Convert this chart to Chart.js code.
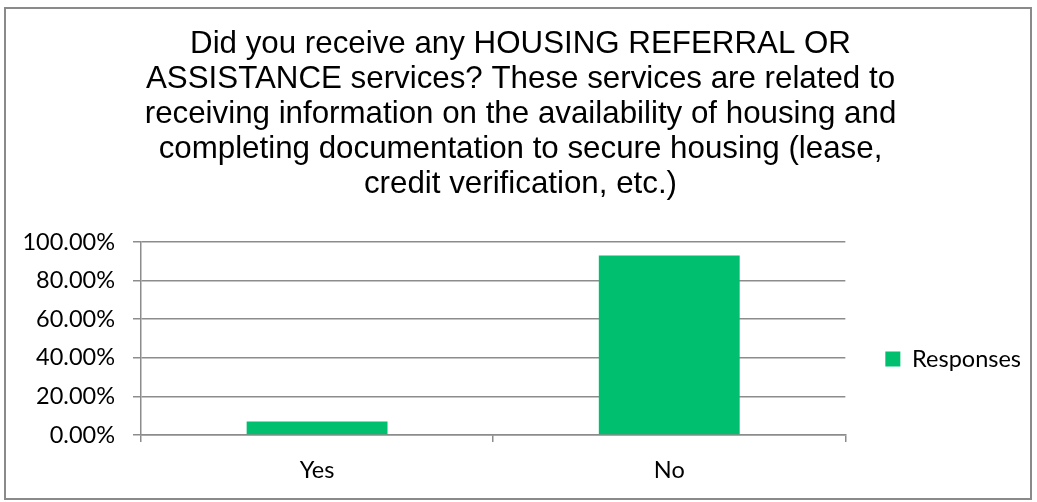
<!DOCTYPE html>
<html>
<head>
<meta charset="utf-8">
<script src="https://cdn.jsdelivr.net/npm/chart.js@4"></script>
<style>
  html, body { margin: 0; padding: 0; background: #fff; }
  #wrap { position: relative; width: 1037px; height: 502px; }
  #frame {
    position: absolute; left: 4px; top: 7px; width: 1028px; height: 493px;
    border: 2px solid #8a8a8a; box-sizing: border-box; pointer-events: none;
  }
  canvas { position: absolute; left: 0; top: 0; }
</style>
</head>
<body>
<div id="wrap">
  <canvas id="housingChart" width="1037" height="502"></canvas>
  <div id="frame"></div>
</div>
<script>
// survey answers, share of responses in percent
const categories = ['Yes', 'No'];
const responses = [7.0, 93.0];
const seriesName = 'Responses';
const yTicks = [0, 20, 40, 60, 80, 100];

const titleLines = [
    'Did you receive any HOUSING REFERRAL OR',
    'ASSISTANCE services? These services are related to',
    'receiving information on the availability of housing and',
    'completing documentation to secure housing (lease,',
    'credit verification, etc.)'
];

const gridGray = '#8c8c8c';
const barGreen = '#00bf6f';
const labelFont = { family: 'Lato', size: 23.5 };

let ctx = document.getElementById('housingChart').getContext('2d');

new Chart(ctx, {
    type: 'bar',
    data: {
        labels: categories,
        datasets: [{
            label: seriesName,
            data: responses,
            backgroundColor: barGreen,
            borderWidth: 0,
            categoryPercentage: 0.4,
            barPercentage: 1.0
        }]
    },
    options: {
        responsive: false,
        animation: false,
        layout: {
            padding: { top: 0, left: 10, right: 6, bottom: 0 }
        },
        plugins: {
            tooltip: { enabled: false },
            title: {
                display: true,
                text: titleLines,
                color: '#000',
                font: { family: 'Liberation Sans', size: 31.3, weight: 'normal', lineHeight: 35 / 31.3 },
                padding: { top: 27, bottom: 40 }
            },
            legend: {
                display: true,
                position: 'right',
                // blank legend title only pushes the entry down to mid height
                title: {
                    display: true,
                    text: ' ',
                    font: { size: 10, lineHeight: 1 },
                    padding: { top: 206, bottom: 0 }
                },
                labels: {
                    color: '#000',
                    font: labelFont,
                    boxWidth: 15,
                    boxHeight: 15,
                    padding: 5
                }
            }
        },
        scales: {
            x: {
                grid: {
                    display: true,
                    offset: true,
                    drawOnChartArea: false,
                    drawTicks: true,
                    tickLength: 7,
                    color: gridGray,
                    lineWidth: 1.5
                },
                border: { display: true, color: gridGray, width: 1.5 },
                ticks: { color: '#000', font: labelFont, padding: 14 },
                afterFit: scale => { scale.height = 67; }
            },
            y: {
                min: 0,
                max: 100,
                afterBuildTicks: scale => {
                    scale.ticks = yTicks.map(v => ({ value: v }));
                },
                ticks: {
                    color: '#000',
                    font: labelFont,
                    padding: 18,
                    callback: value => value.toFixed(2) + '%'
                },
                grid: {
                    color: gridGray,
                    lineWidth: 1.5,
                    tickLength: 8
                },
                border: { display: true, color: gridGray, width: 1.5 },
                afterFit: scale => { scale.width = 131; }
            },
            // empty spacer between plot and legend
            gap: {
                position: 'right',
                display: true,
                grid: { display: false },
                border: { display: false },
                ticks: { display: false },
                afterFit: scale => { scale.width = 35; }
            }
        }
    }
});
</script>
</body>
</html>
